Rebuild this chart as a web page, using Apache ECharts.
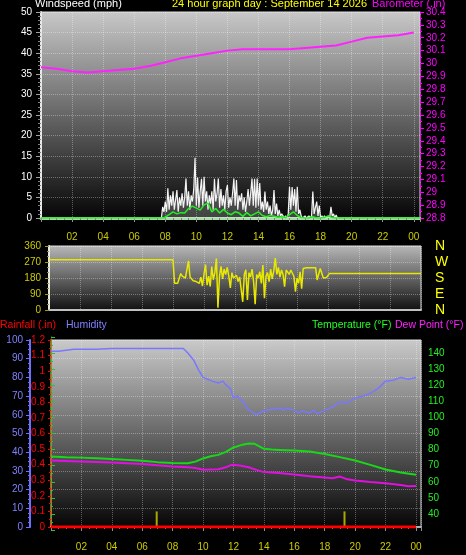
<!DOCTYPE html>
<html><head><meta charset="utf-8">
<script src="https://cdn.jsdelivr.net/npm/echarts@6/dist/echarts.min.js"></script>
<style>html,body{margin:0;padding:0;background:#000;}#c{width:466px;height:555px;}</style>
</head><body><div id="c"></div>
<script>
// ---- tick labels ----
const hourLabels = ['00','02','04','06','08','10','12','14','16','18','20','22','00'];
const dirLabels = {0:'N',90:'E',180:'S',270:'W',360:'N'};

// ---- barometer (inHg), hourly ----
const baroHours = [0,1,2,3,4,5,6,7,8,9,10,11,12,13,14,15,16,17,18,19,20,21,22,23,24];
const baroValues = [29.97,29.96,29.94,29.93,29.94,29.95,29.96,29.98,30.01,30.04,30.06,30.08,30.10,30.11,30.11,30.11,30.11,30.12,30.13,30.14,30.17,30.20,30.21,30.22,30.24];

// ---- wind gust (mph), 5-minute readings from 07:45 ----
const gustStart = 7.75, gustStep = 1/12;
const gustValues = [
 0,2.7,1.5,
 4,1.5,7.2,2,5.5,3,6.5,2,4.5,6.8,1.5,5,
 3,6,2.5,5,9.6,3,6.5,2,5.5,4,7,14.6,
 3,9.8,2.5,6.5,9.5,3,10,4,6.5,2,5.5,3.5,
 6.5,2,9.5,4,6,9.6,2.5,7,3,5.5,2,6.5,
 8,2.5,5,3,6,9.6,3,9.2,2,5.5,4,6,
 2,5,1.5,4,7,3,6,9.6,3,9.5,2.5,9.6,
 3,8.5,2,4,1.5,6.4,2,4,1,3,0.5,2,
 6.8,1,3.5,0.5,2,0.5,1,0.5,0,0.5,0,1,
 7.6,2,7.5,3,7,1.5,7.6,1,2,0.5,0,0,
 0.5,0,0,0.5,0,0.5,6.4,1,2.5,4,0.5,3,
 0,0.5,0,0.5,0,0,0.5,0,2.7,0.5,1,0,
 0.7,0,0];

// ---- average wind (mph), 15-minute readings from 08:00 ----
const avgStart = 8.0, avgStep = 0.25;
const avgValues = [0.2,0.8,1.5,1.0,1.3,1.2,2.3,2.9,2.4,1.9,3.2,3.6,1.5,2.3,1.2,2.1,1.2,0.8,1.5,1.2,0.4,1.3,0.5,1.0,1.5,0.6,0.3,0.6,0.4,0.2,0.3,0.1,0.8,1.5,0.6,0.1,0,0,0.3,0,0,0.2,0.5,0.1,0];

// ---- wind direction (deg) ----
const dirCalmHours = [0, 8.0];
const dirCalmValues = [283, 283];
const dirStart = 8.1, dirStep = 0.1;
const dirValues = [
 150,152,150,155,205,190,195,180,185,
 276,185,178,165,175,160,170,150,185,135,
 200,255,140,190,133,244,170,210,290,13,
 190,245,175,230,200,240,190,124,210,180,
 170,195,160,185,175,46,200,226,56,210,
 185,230,160,32,200,180,215,150,253,66,
 190,210,160,230,175,220,292,200,240,185,
 225,200,131,225,225,200,225,225,190,103,
 180,150,215,120,234,238,238,238,238,238,
 238,236,238,169,172,234,232,180,185,183,
 185,206];
const dirEndHours = [24];
const dirEndValues = [206];

// ---- humidity (%) ----
const humHours = [0,0.5,1,1.5,2,3,4,5,6,7,8,8.7,9.0,9.4,9.7,10.0,10.3,10.6,11,11.3,11.5,11.8,12.0,12.3,12.6,13.0,13.3,13.5,13.8,14.0,14.5,15.0,15.3,15.5,16.0,16.3,16.5,17.0,17.3,17.5,18.0,18.5,19.0,19.5,20.0,20.5,21.0,21.5,22.0,22.5,23.0,23.5,24.0];
const humValues = [94,94,94.5,95,95,95,95.5,95.5,95.5,95.5,95.5,95.5,93,89,84,80,79,78,77,78,76,74,69,70,67,62.5,61,60,61.5,62,63,63.5,62.5,63.5,62.5,61,62,61,62.5,60.5,62.5,64,67,66.5,69,70,71.5,74,78,78.5,80,79,80];

// ---- temperature (F) ----
const tempHours = [0,1,2,3,4,5,6,7,8,9,9.5,10,10.5,11,11.5,12,12.5,13,13.4,14,14.5,15,16,17,18,19,20,21,22,23,24];
const tempValues = [75.7,75.3,75,74.6,74.2,73.6,73,72.2,71.6,71.5,72.5,74.5,75.8,76.7,78.6,81.3,82.8,83.8,83.6,80.5,80,79.8,79.4,78.8,77.3,75.3,73.2,70.5,67.6,65.8,64.3];

// ---- dew point (F) ----
const dewHours = [0,1,2,3,4,5,6,7,8,9,9.5,10,10.5,11,11.5,11.8,12,12.5,13,13.5,14,15,16,17,18,18.5,19,19.5,20,21,22,23,23.5,24];
const dewValues = [73.2,72.9,72.6,72.3,71.9,71.5,71.1,70.2,69.5,69,68.5,67.4,67.6,67.8,69,70.2,70.5,70,69,67.4,66,65.4,64.5,63.4,62.6,62.2,63.2,61.5,60.8,59.9,59.1,58,57.2,57.4];

// ---- rainfall (in) ----
const rainHours = [0, 24];
const rainValues = [0, 0];
const rainMarkHours = [6.95, 19.3];
const rainMarkValues = [0.1, 0.1];

function zip(h, v){ return h.map((x,i)=>[x, v[i]]); }
function stepped(start, step, v){ return v.map((y,i)=>[+(start+i*step).toFixed(4), y]); }

const FONT = 'Liberation Sans, Arial, sans-serif';
const grad = (top, bottom) => new echarts.graphic.LinearGradient(0,0,0,1,[{offset:0,color:top},{offset:1,color:bottom}]);
const splitDot = {show:true, lineStyle:{color:'rgba(255,255,255,0.32)', type:'dotted', width:1}};
const hourFmt = v => (Math.abs(v/2 - Math.round(v/2)) < 1e-6 && v > 0 && v <= 24) ? hourLabels[Math.round(v/2)] : '';
const ttl = (text, left, top, color, size) => ({text, left, top, padding:0, textStyle:{color, fontSize:size, fontWeight:'normal', fontFamily:FONT}});

const chart = echarts.init(document.getElementById('c'), null, {renderer:'canvas'});
chart.setOption({
  backgroundColor:'#000',
  animation:false,
  textStyle:{fontFamily:FONT},
  title:[
    ttl('Windspeed (mph)', 35, -2, '#ffffff', 11),
    ttl('24 hour graph day : September 14 2026', 172, -2, '#ffff00', 11),
    ttl('Barometer (.in)', 372, -2, '#ff00ff', 11),
    ttl('Rainfall (.in)', 0, 320, '#ff0000', 10.5),
    ttl('Humidity', 66, 320, '#8080ff', 10.5),
    ttl('Temperature (°F)', 312, 320, '#22ff22', 10.5),
    ttl('Dew Point (°F)', 395, 320, '#ff22ff', 10.5)
  ],
  grid:[
    {left:41, top:12, width:379, height:206, show:true, backgroundColor:grad('#c8c8c8','#050505'), borderColor:'#d8d8d8', borderWidth:1},
    {left:49, top:246, width:372, height:64, show:true, backgroundColor:grad('#b8b8b8','#101010'), borderColor:'#d8d8d8', borderWidth:1},
    {left:51, top:340, width:370, height:187, show:true, backgroundColor:grad('#cacaca','#050505'), borderColor:'#d8d8d8', borderWidth:1},
    {left:51, top:337, width:370, height:193, show:false}
  ],
  xAxis:[
    {gridIndex:0, type:'value', min:0, max:24.4, interval:2, offset:2,
     axisLine:{show:true, lineStyle:{color:'#a8dca8', width:3}},
     axisTick:{show:true, length:4, lineStyle:{color:'#909090'}},
     minorTick:{show:true, splitNumber:4, length:2, lineStyle:{color:'#808080'}},
     axisLabel:{color:'#cccc00', fontSize:10, margin:12, formatter:hourFmt},
     splitLine:splitDot},
    {gridIndex:1, type:'value', min:0, max:24, interval:2,
     axisLine:{show:true, lineStyle:{color:'#c0c0c0', width:2}},
     axisTick:{show:false}, axisLabel:{show:false}, splitLine:splitDot},
    {gridIndex:2, type:'value', min:0, max:24.33, interval:2,
     axisLine:{show:true, lineStyle:{color:'#b0b0b0', width:2}},
     axisTick:{show:true, length:4, lineStyle:{color:'#909090'}},
     minorTick:{show:true, splitNumber:4, length:2, lineStyle:{color:'#808080'}},
     axisLabel:{color:'#cccc00', fontSize:10, margin:15, formatter:hourFmt},
     splitLine:splitDot},
    {gridIndex:3, type:'value', min:0, max:24.33, interval:2, show:false}
  ],
  yAxis:[
    {gridIndex:0, type:'value', position:'left', min:0, max:50, interval:5,
     axisLine:{show:true, lineStyle:{color:'#e8e8e8', width:2}},
     axisTick:{show:true, length:5, lineStyle:{color:'#a0a0a0'}},
     minorTick:{show:true, splitNumber:5, length:3, lineStyle:{color:'#808080'}},
     axisLabel:{color:'#ffffff', fontSize:10, margin:9},
     splitLine:splitDot},
    {gridIndex:0, type:'value', position:'right', min:28.8, max:30.4, interval:0.1,
     axisLine:{show:true, lineStyle:{color:'#ff00ff', type:'dashed', width:1}},
     axisTick:{show:true, length:4, lineStyle:{color:'#ff00ff'}},
     minorTick:{show:true, splitNumber:2, length:2, lineStyle:{color:'#ff00ff'}},
     axisLabel:{color:'#ff00ff', fontSize:10, margin:6},
     splitLine:{show:false}},
    {gridIndex:1, type:'value', position:'left', min:0, max:360, interval:90,
     axisLine:{show:true, lineStyle:{color:'#e8e8e8', width:2}},
     axisTick:{show:true, length:4, lineStyle:{color:'#a0a000'}},
     minorTick:{show:true, splitNumber:3, length:2, lineStyle:{color:'#a0a000'}},
     axisLabel:{color:'#cccc00', fontSize:10, margin:8},
     splitLine:splitDot},
    {gridIndex:1, type:'value', position:'right', min:0, max:360, interval:90,
     axisLine:{show:false}, axisTick:{show:false},
     axisLabel:{color:'#ffff00', fontSize:14, margin:14, formatter:v => dirLabels[v] || ''},
     splitLine:{show:false}},
    {gridIndex:2, type:'value', position:'left', min:0, max:1.2, interval:0.1,
     axisLine:{show:true, lineStyle:{color:'#ff3030', type:'dashed', width:2}},
     axisTick:{show:true, length:3, lineStyle:{color:'#ff0000'}},
     minorTick:{show:true, splitNumber:2, length:2, lineStyle:{color:'#ff0000'}},
     axisLabel:{color:'#ff0000', fontSize:10, margin:6},
     splitLine:{show:false}},
    {gridIndex:2, type:'value', position:'left', offset:21, min:0, max:100, interval:10,
     axisLine:{show:true, lineStyle:{color:'#7070ff', width:2}},
     axisTick:{show:true, length:4, lineStyle:{color:'#7070ff'}},
     minorTick:{show:true, splitNumber:4, length:2, lineStyle:{color:'#7070ff'}},
     axisLabel:{color:'#8080ff', fontSize:10, margin:7},
     splitLine:splitDot},
    {gridIndex:3, type:'value', position:'right', min:30, max:150, interval:10,
     axisLine:{show:true, lineStyle:{color:'#22cc22', type:'dashed', width:1}},
     axisTick:{show:true, length:4, lineStyle:{color:'#22cc22'}},
     minorTick:{show:true, splitNumber:2, length:2, lineStyle:{color:'#22cc22'}},
     axisLabel:{color:'#22ee22', fontSize:10, margin:7, showMinLabel:false, showMaxLabel:false},
     splitLine:{show:false}}
  ],
  series:[
    {name:'Barometer', type:'line', xAxisIndex:0, yAxisIndex:1, data:zip(baroHours, baroValues), showSymbol:false, lineStyle:{color:'#ff22ff', width:2}, z:3},
    {name:'Gust', type:'line', xAxisIndex:0, yAxisIndex:0, data:stepped(gustStart, gustStep, gustValues), showSymbol:false, lineStyle:{color:'#f4f4f4', width:1.2}, areaStyle:{color:'rgba(255,255,255,0.35)'}, z:4},
    {name:'Wind', type:'line', xAxisIndex:0, yAxisIndex:0, data:[[0,0],[7.9,0]].concat(stepped(avgStart, avgStep, avgValues), [[19.1,0],[24.4,0]]), showSymbol:false, lineStyle:{color:'#22ee22', width:1.5}, z:5},
    {name:'Direction', type:'line', xAxisIndex:1, yAxisIndex:2, data:zip(dirCalmHours, dirCalmValues).concat(stepped(dirStart, dirStep, dirValues), zip(dirEndHours, dirEndValues)), showSymbol:false, lineStyle:{color:'#e8e800', width:1.5}, z:4},
    {name:'Rain marks', type:'bar', xAxisIndex:2, yAxisIndex:4, data:zip(rainMarkHours, rainMarkValues), barWidth:2, itemStyle:{color:'#a8a800'}, z:3},
    {name:'Humidity', type:'line', xAxisIndex:2, yAxisIndex:5, data:zip(humHours, humValues), showSymbol:false, lineStyle:{color:'#7878ff', width:1.5}, z:4},
    {name:'Temperature', type:'line', xAxisIndex:3, yAxisIndex:6, data:zip(tempHours, tempValues), showSymbol:false, lineStyle:{color:'#18d818', width:2}, z:4},
    {name:'Dew Point', type:'line', xAxisIndex:3, yAxisIndex:6, data:zip(dewHours, dewValues), showSymbol:false, lineStyle:{color:'#e010e0', width:2}, z:4},
    {name:'Rainfall', type:'line', xAxisIndex:2, yAxisIndex:4, data:zip(rainHours, rainValues), showSymbol:false, lineStyle:{color:'#ff0000', width:3}, z:5}
  ]
});
</script></body></html>
